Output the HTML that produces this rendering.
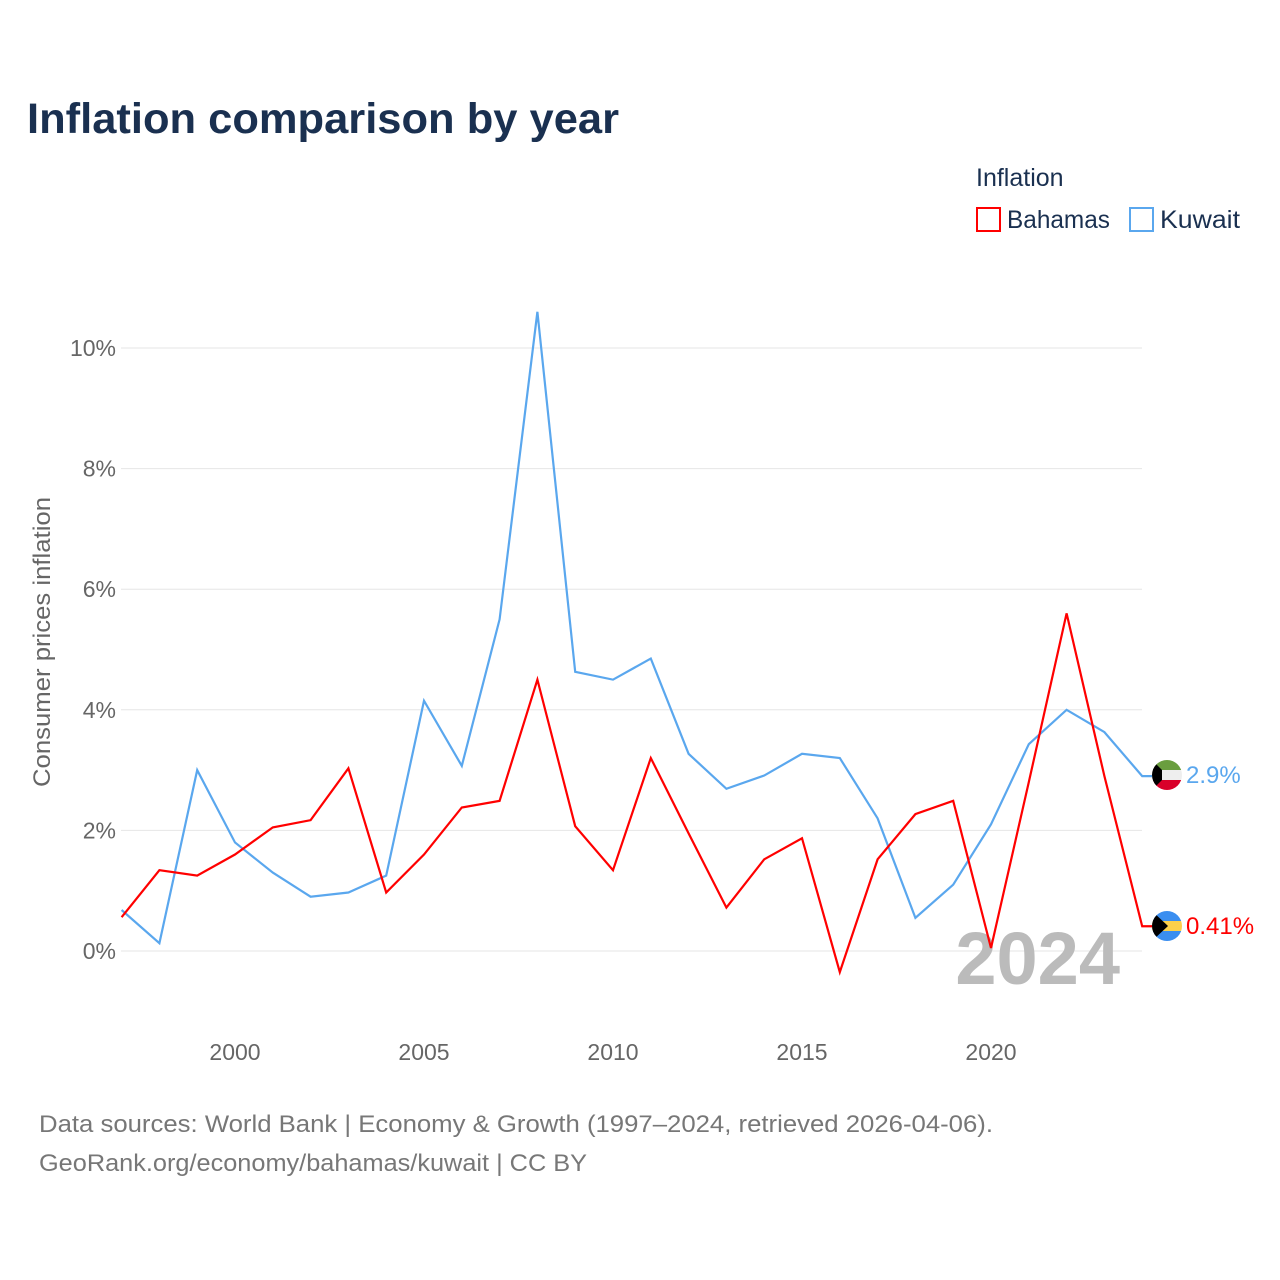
<!DOCTYPE html>
<html><head><meta charset="utf-8"><style>
body{margin:0;background:#fff;font-family:"Liberation Sans",sans-serif;}
svg{display:block}
</style></head><body>
<svg width="1280" height="1280" viewBox="0 0 1280 1280">
<defs>
<clipPath id="ck"><circle cx="1167" cy="775" r="15"/></clipPath>
<clipPath id="cb"><circle cx="1167" cy="926" r="15"/></clipPath>
</defs>
<text x="27" y="133" font-size="43" font-weight="bold" fill="#1a3050" textLength="592" lengthAdjust="spacingAndGlyphs">Inflation comparison by year</text>
<text x="976" y="186" font-size="25" fill="#1a3050">Inflation</text>
<g><rect x="977" y="208" width="23" height="23" fill="none" stroke="#f00" stroke-width="2"/><text x="1007" y="228" font-size="25" fill="#1a3050" textLength="103" lengthAdjust="spacingAndGlyphs">Bahamas</text></g>
<g><rect x="1130" y="208" width="23" height="23" fill="none" stroke="#5aa7ee" stroke-width="2"/><text x="1160" y="228" font-size="25" fill="#1a3050" textLength="80" lengthAdjust="spacingAndGlyphs">Kuwait</text></g>
<g id="grid"></g>
<g id="yticks"></g>
<g id="xticks"></g>
<text transform="translate(50,642) rotate(-90)" text-anchor="middle" font-size="24" fill="#666" textLength="290" lengthAdjust="spacingAndGlyphs">Consumer prices inflation</text>
<text x="1120" y="984" text-anchor="end" font-size="74" font-weight="bold" fill="#bbb">2024</text>
<g id="series"></g>
<g clip-path="url(#ck)"><rect x="1152" y="760" width="30" height="10" fill="#6a9e3f"/><rect x="1152" y="770" width="30" height="10" fill="#eee"/><rect x="1152" y="780" width="30" height="10" fill="#d9002a"/><polygon points="1152,760 1162,770 1162,780 1152,790" fill="#000"/></g>
<g clip-path="url(#cb)"><rect x="1152" y="911" width="30" height="10" fill="#3a8ef0"/><rect x="1152" y="921" width="30" height="10" fill="#fcd04a"/><rect x="1152" y="931" width="30" height="10" fill="#3a8ef0"/><polygon points="1152,911 1168,926 1152,941" fill="#000"/></g>
<text x="1186" y="783" font-size="24" fill="#5aa7ee">2.9%</text>
<text x="1186" y="934" font-size="24" fill="#f00">0.41%</text>
<text x="39" y="1132" font-size="24" fill="#777" textLength="954" lengthAdjust="spacingAndGlyphs">Data sources: World Bank | Economy &amp; Growth (1997–2024, retrieved 2026-04-06).</text>
<text x="39" y="1171" font-size="24" fill="#777" textLength="548" lengthAdjust="spacingAndGlyphs">GeoRank.org/economy/bahamas/kuwait | CC BY</text>
</svg>
<script>
const years=[1997,1998,1999,2000,2001,2002,2003,2004,2005,2006,2007,2008,2009,2010,2011,2012,2013,2014,2015,2016,2017,2018,2019,2020,2021,2022,2023,2024];
const kuwait=[0.68,0.13,3.0,1.8,1.3,0.9,0.97,1.25,4.15,3.07,5.5,10.6,4.63,4.5,4.85,3.27,2.69,2.91,3.27,3.2,2.2,0.55,1.1,2.1,3.43,4.0,3.63,2.9];
const bahamas=[0.56,1.34,1.25,1.6,2.05,2.17,3.03,0.97,1.6,2.38,2.49,4.5,2.07,1.34,3.2,1.95,0.72,1.52,1.87,-0.35,1.52,2.27,2.49,0.05,2.8,5.6,2.9,0.41];
const yTicks=[0,2,4,6,8,10];
const xTicks=[2000,2005,2010,2015,2020];
const NS="http://www.w3.org/2000/svg";
function X(y){return 121.6+(y-1997)*37.8;}
function Y(v){return 951-v*60.3;}
function mk(t,a,p){const e=document.createElementNS(NS,t);for(const k in a)e.setAttribute(k,a[k]);p.appendChild(e);return e;}
const grid=document.getElementById('grid'),yt=document.getElementById('yticks'),xt=document.getElementById('xticks'),ser=document.getElementById('series');
yTicks.forEach(v=>{
 const l=mk('line',{x1:121,x2:1142,y1:Y(v),y2:Y(v),stroke:'#e6e6e6','stroke-width':1},grid);
 
 
 const t=mk('text',{x:116,y:Y(v)+8,'text-anchor':'end','font-size':23,fill:'#666'},yt);
 t.textContent=v+'%';
 
 
});
xTicks.forEach(v=>{
 const t=mk('text',{x:X(v),y:1060,'text-anchor':'middle','font-size':23,fill:'#666'},xt);
 t.textContent=v;
 
 
});
function line(vals,color,name){
 let pts=vals.map((v,i)=>X(years[i])+','+Y(v));
 pts.push('1152,'+Y(vals[vals.length-1]));
 const p=mk('polyline',{points:pts.join(' '),fill:'none',stroke:color,'stroke-width':2.2,'stroke-linejoin':'miter'},ser);
 
 
}
line(kuwait,'#5aa7ee','kuwait-line');
line(bahamas,'#ff0000','bahamas-line');
</script>
</body></html>
